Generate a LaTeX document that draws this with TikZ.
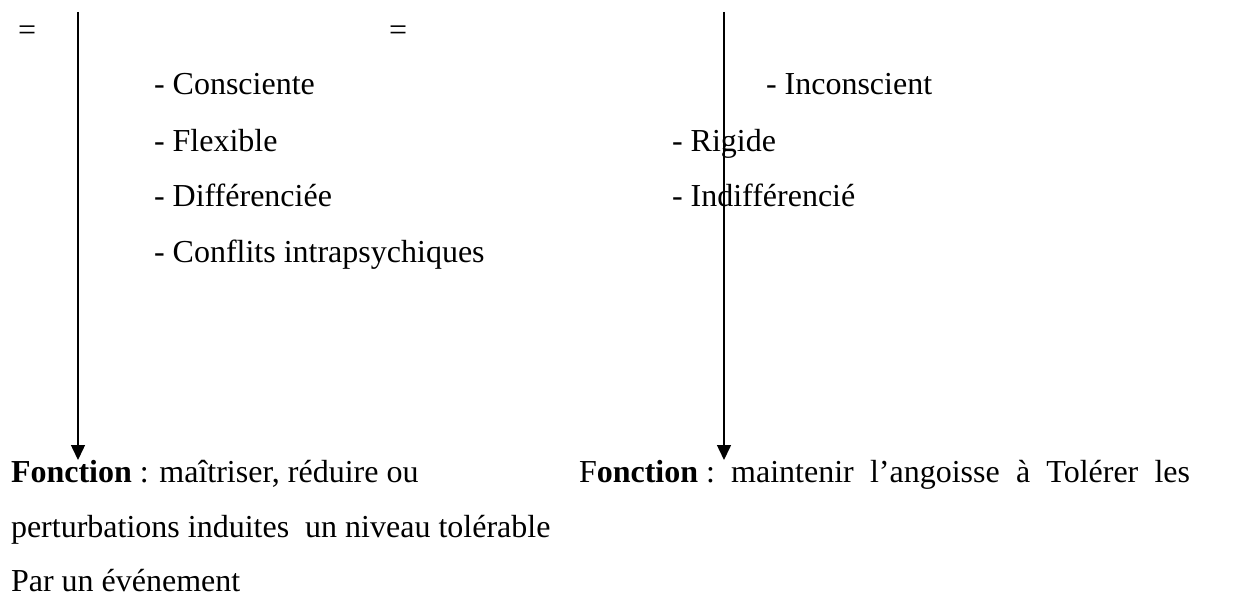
\documentclass[tikz,border=0pt]{standalone}
\usepackage{fontspec}
\setmainfont{Liberation Serif}
\usetikzlibrary{arrows.meta}
\begin{document}
\begin{tikzpicture}[x=1pt,y=-1pt,
  txt/.style={anchor=base west,inner sep=0pt,outer sep=0pt,font=\fontsize{32}{38}\selectfont},
  conn/.style={line width=1.5pt,-{Triangle[width=14pt,length=15pt]}}]
\useasboundingbox (0,0) rectangle (1233,596);
\node[txt] (eq1) at (18,41) {=};
\node[txt] (eq2) at (389,41) {=};
\node[txt] (c1) at (154,95) {- Consciente};
\node[txt] (c2) at (154,152) {- Flexible};
\node[txt] (c3) at (154,207) {- Différenciée};
\node[txt] (c4) at (154,262) {- Conflits intrapsychiques};
\node[txt] (i1) at (766,95) {- Inconscient};
\node[txt] (i2) at (672,152) {- Rigide};
\node[txt] (i3) at (672,207) {- Indifférencié};
\node[txt] (f1) at (11,482) {\textbf{Fonction} : maîtriser, réduire ou};
\node[txt] (f2) at (11,537) {perturbations induites\ \ un niveau tolérable};
\node[txt] (f3) at (11,591) {Par un événement};
\node[txt] (g1) at (579,482) {\hbox to 611pt{F\textbf{onction} :\hfill maintenir\hfill l’angoisse\hfill à\hfill Tolérer\hfill les}};
\coordinate (ltop) at (78,12);
\coordinate (lbot) at (78,460);
\coordinate (rtop) at (724,12);
\coordinate (rbot) at (724,460);
\draw[conn] (ltop) -- (lbot);
\draw[conn] (rtop) -- (rbot);
\end{tikzpicture}
\end{document}
